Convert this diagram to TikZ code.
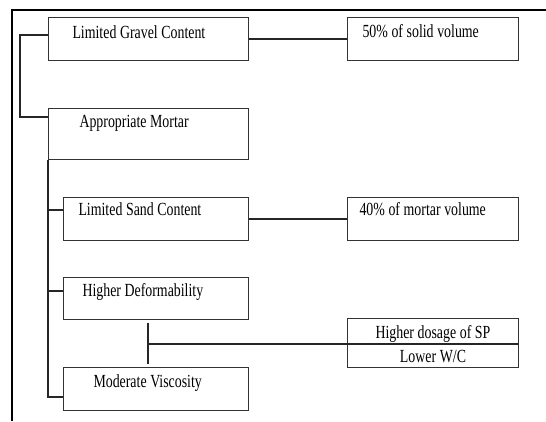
\documentclass[tikz,border=0pt]{standalone}
\usepackage{fontspec}
\newfontfamily\chartfont{Liberation Serif}[FakeStretch=0.75]
\newcommand\boxfont{\chartfont\fontsize{18.5}{20}\selectfont}
\begin{document}
\begin{tikzpicture}[x=1pt,y=-1pt,
  box/.style={draw=black!80, line width=1pt, anchor=north west, inner ysep=0pt, align=flush left, font=\boxfont,
    execute at begin node={\spaceskip=3.6pt\xspaceskip=3.6pt\relax}},
  link/.style={draw=black!85, line width=1.3pt}]

\useasboundingbox (0,0) rectangle (546,421);

\coordinate (frame_top) at (546,10);
\coordinate (frame_corner) at (12,10);
\coordinate (frame_bot) at (12,421);
\draw [line width=1.7pt] (frame_top) -- (frame_corner) -- (frame_bot);

\node[box, inner xsep=24pt, text width=152pt, text height=20.5pt, text depth=22.5pt] (gravel) at (48,17) {Limited Gravel Content};
\node[box, inner xsep=15pt, text width=141pt, text height=20pt, text depth=23pt] (solid) at (347,17) {50\% of solid volume};
\draw [link] (gravel.east) -- (solid.west);

\node[box, inner xsep=31pt, text width=138pt, text height=19pt, text depth=32pt] (mortar) at (48,108) {Appropriate Mortar};
\coordinate (spine) at (20,35);
\draw [link] ([yshift=-18pt]gravel.north west) -- (spine) |- ([yshift=-9pt]mortar.north west);

\node[box, inner xsep=15pt, text width=155pt, text height=18pt, text depth=25pt] (sand) at (63,197) {Limited Sand Content};
\node[box, inner xsep=12pt, text width=147pt, text height=18pt, text depth=25pt] (mvol) at (347,197) {40\% of mortar volume};
\draw [link] (sand.east) -- (mvol.west);

\node[box, inner xsep=19pt, text width=147pt, text height=19pt, text depth=23pt] (deform) at (63,277) {Higher Deformability};
\node[box, inner xsep=30pt, text width=125pt, text height=20pt, text depth=23pt] (visc) at (63,367) {Moderate Viscosity};

\coordinate (sand_in) at ([yshift=-13pt]sand.north west);
\coordinate (deform_in) at ([yshift=-14pt]deform.north west);
\coordinate (visc_in) at ([yshift=-30pt]visc.north west);
\draw [link] (mortar.south west) |- (visc_in);
\draw [link] (mortar.south west |- sand_in) -- (sand_in);
\draw [link] (mortar.south west |- deform_in) -- (deform_in);

\node[box, align=center, inner xsep=0pt, text width=171pt, text height=20pt, text depth=5pt] (sp) at (347,318) {Higher dosage of SP};
\node[box, align=center, inner xsep=0pt, text width=171pt, text height=19pt, text depth=5pt] (wc) at (347,343) {Lower W/C};

\coordinate (tie_top) at (148,323);
\coordinate (tie_bot) at (148,364);
\draw [link] (tie_top) -- (tie_bot);
\draw [link] (tie_top |- sp.south) -- (sp.south east);

\end{tikzpicture}
\end{document}
